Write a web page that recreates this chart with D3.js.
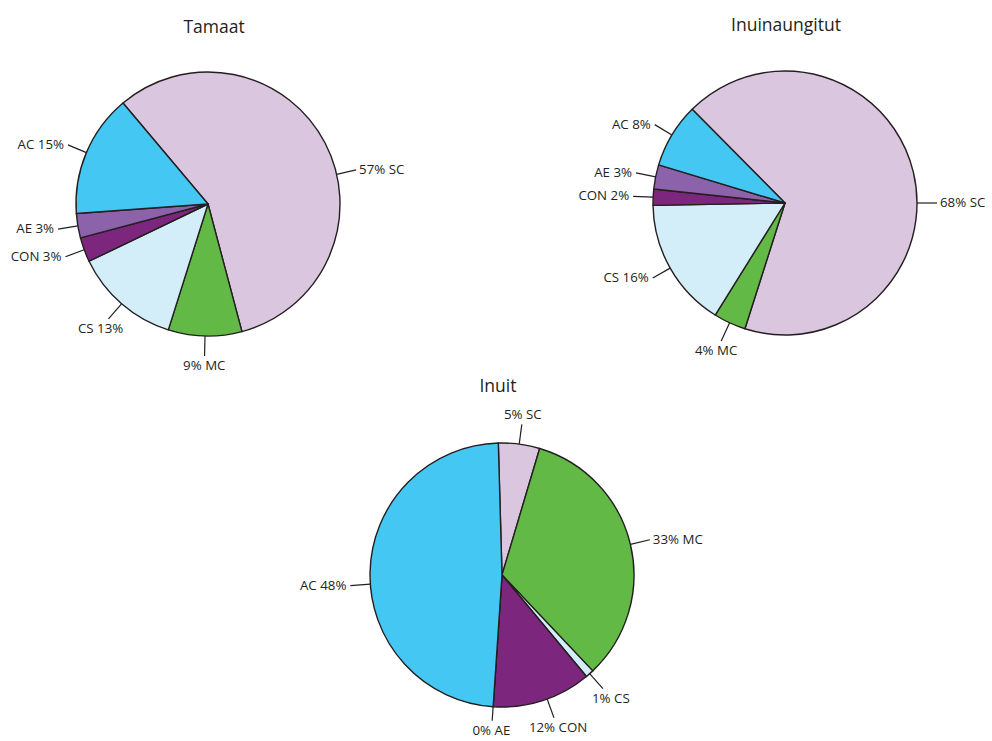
<!doctype html>
<html lang="en">
  <head>
    <meta charset="utf-8">
    <title>Pies</title>
    <script src="https://d3js.org/d3.v7.min.js"></script>
    <style>
      body { margin: 0; background: #fff; }
      text { font-family: "Open Sans", sans-serif; fill: #231f20; }
    </style>
  </head>

  <body>
    <svg width="992" height="741"></svg>

    <script>
      // categories, clockwise from the first slice
      var groups = ['SC', 'MC', 'CS', 'CON', 'AE', 'AC'];
      var titles = ['Tamaat', 'Inuinaungitut', 'Inuit'];

      // shares in %, same order as groups
      var tamaat = [57, 9, 13, 3, 3, 15];
      var inuinaungitut = [68, 4, 16, 2, 3, 8];
      var inuit = [5, 33, 1, 12, 0, 48];

      var series = [tamaat, inuinaungitut, inuit];

      var colors = {
        SC: '#dac6df', MC: '#62b946', CS: '#d3edf9',
        CON: '#7d267d', AE: '#8c63aa', AC: '#44c8f3'
      };

      // layout
      var R = 132;
      var centers = [[208, 204], [785, 203], [502, 575]];
      var titlePos = [[214, 33], [786, 31], [498, 392]];
      var startDeg = [-40.1, -44.7, -1.6];
      // where a label leaves its slice, if not at the middle
      var labelDeg = [{ SC: 77 }, { SC: 90 }, { AC: 266, CON: 160 }];

      var svg = d3.select('svg');
      var arc = d3.arc().innerRadius(0).outerRadius(R);
      var rad = Math.PI / 180;

      series.forEach(function(values, i){
        var rows = groups.map(function(g, k){ return { name: g, v: values[k] }; });
        var a0 = startDeg[i] * rad;
        var pie = d3.pie().sort(null).value(function(d){ return d.v; })
          .startAngle(a0).endAngle(a0 + 2 * Math.PI);

        var g = svg.append('g')
          .attr('transform', 'translate(' + centers[i][0] + ',' + centers[i][1] + ')');

        g.selectAll('path.slice')
          .data(pie(rows))
          .join('path')
          .attr('class', 'slice')
          .attr('d', arc)
          .style('fill', function(d){ return colors[d.data.name]; })
          .style('stroke', '#231f20')
          .style('stroke-width', 1.4)
          .style('stroke-linejoin', 'round');

        // labels with leader lines
        var lab = g.selectAll('g.lab')
          .data(pie(rows))
          .join('g')
          .attr('class', 'lab');

        lab.each(function(d){
          var over = labelDeg[i][d.data.name];
          var a = over !== undefined ? over * rad : (d.startAngle + d.endAngle) / 2;
          var sx = Math.sin(a), cy = -Math.cos(a);
          var x1 = sx * R, y1 = cy * R;
          var len = (centers[i][1] + cy * (R + 20) > 720) ? 14 : 20;
          var x2 = sx * (R + len), y2 = cy * (R + len);
          var el = d3.select(this);
          el.append('line')
            .attr('x1', x1).attr('y1', y1).attr('x2', x2).attr('y2', y2)
            .style('stroke', '#231f20').style('stroke-width', 1.2);

          var pct = d.data.v + '%';
          var txt = sx < -0.5 ? d.data.name + ' ' + pct : pct + ' ' + d.data.name;
          var t = el.append('text').style('font-size', '13.3px').text(txt);
          if (sx > 0.7) {
            t.attr('x', x2 + 3).attr('y', y2 + 4).attr('text-anchor', 'start');
          } else if (sx < -0.7) {
            t.attr('x', x2 - 4).attr('y', y2 + 4).attr('text-anchor', 'end');
          } else if (cy > 0) {
            t.attr('x', x2 + sx * 12).attr('y', y2 + 14).attr('text-anchor', 'middle');
          } else {
            t.attr('x', x2 + sx * 8).attr('y', y2 - 5).attr('text-anchor', 'middle');
          }
        });

        svg.append('text')
          .attr('x', titlePos[i][0])
          .attr('y', titlePos[i][1])
          .attr('text-anchor', 'middle')
          .style('font-size', '17.5px')
          .text(titles[i]);
      });
    </script>
  </body>
</html>
